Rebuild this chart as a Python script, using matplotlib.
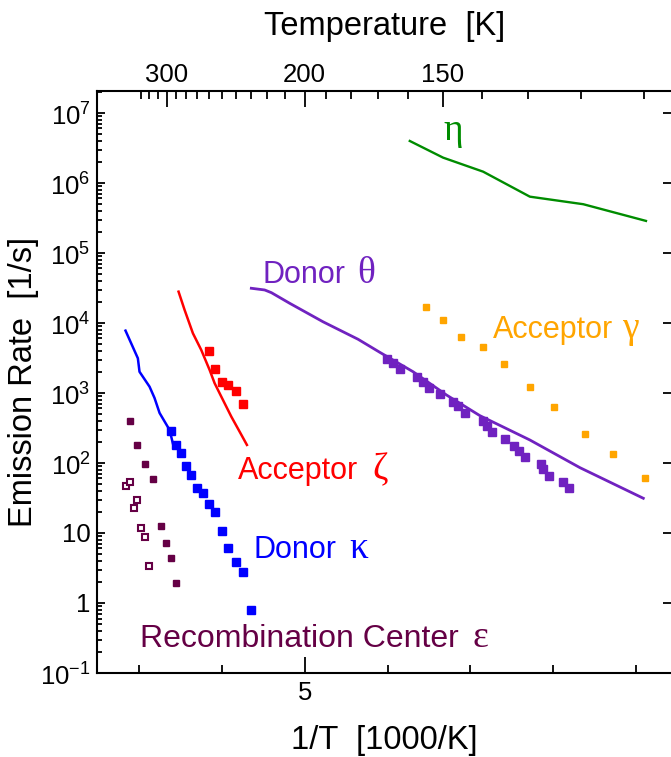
import matplotlib
matplotlib.use("Agg")
import matplotlib.pyplot as plt
from matplotlib.ticker import FixedLocator, FixedFormatter, NullFormatter

plt.rcParams['font.family'] = ['Liberation Sans', 'DejaVu Sans']
plt.rcParams['mathtext.fontset'] = 'custom'
plt.rcParams['mathtext.rm'] = 'Liberation Sans'

# --- data: x = 1000/T, y = emission rate in 1/s ---
kappa_x = [3.385, 3.446, 3.506, 3.567, 3.627, 3.699, 3.772, 3.844, 3.917, 4.001, 4.074, 4.170, 4.255, 4.351]
kappa_y = [287, 181, 137, 90.6, 66.7, 43.5, 36.9, 25.7, 19.8, 10.6, 6.1, 3.81, 2.75, 0.794]
kappa_fit_x = [2.838, 2.987, 3.007, 3.128, 3.188, 3.249, 3.370, 3.409]
kappa_fit_y = [7770, 3130, 2010, 1230, 849, 518, 296, 191]

zeta_x = [3.844, 3.917, 4.001, 4.074, 4.175, 4.255]
zeta_y = [3980, 2200, 1440, 1300, 1060, 690]
zeta_fit_x = [3.478, 3.551, 3.651, 3.752, 3.853, 3.913, 3.994, 4.115, 4.215, 4.303]
zeta_fit_y = [28000, 15350, 7130, 4110, 2130, 1380, 885, 458, 280, 181]

eps_x = [2.890, 2.980, 3.071, 3.164, 3.269, 3.330, 3.382, 3.442]
eps_y = [402, 181, 96.8, 59.7, 12.6, 7.2, 4.44, 1.95]
eps_open_x = [2.847, 2.890, 2.980, 2.935, 3.019, 3.071, 3.116]
eps_open_y = [47.5, 53, 29.6, 22.8, 11.7, 8.7, 3.41]

theta_x = [5.994, 6.066, 6.155, 6.356, 6.429, 6.501, 6.630, 6.791, 6.851, 6.936, 7.146,
           7.201, 7.266, 7.419, 7.524, 7.588, 7.660, 7.846, 7.878, 7.950, 8.112, 8.185]
theta_y = [3060, 2660, 2200, 1710, 1420, 1170, 957, 752, 646, 513, 402,
           334, 280, 220, 177, 150, 123, 95.7, 81.3, 65.9, 53.0, 43.6]
theta_fit_x = [4.356, 4.517, 4.598, 4.819, 5.221, 5.644, 5.906, 6.308, 6.711, 7.114, 7.717, 8.321, 9.086]
theta_fit_y = [31300, 29600, 27100, 19100, 10400, 5850, 3810, 2010, 935, 474, 213, 85.7, 31.3]

gamma_x = [6.458, 6.667, 6.888, 7.153, 7.403, 7.714, 8.011, 8.378, 8.723, 9.106]
gamma_y = [17100, 11000, 6370, 4580, 2620, 1220, 626, 257, 133, 61]

eta_x = [6.268, 6.670, 7.153, 7.717, 8.361, 9.118]
eta_y = [3.98e6, 2.30e6, 1.45e6, 6.37e5, 4.97e5, 2.87e5]

y_major = [1e7, 1e6, 1e5, 1e4, 1e3, 1e2, 10, 1, 0.1]
y_labels = ['$10^{7}$', '$10^{6}$', '$10^{5}$', '$10^{4}$', '$10^{3}$', '$10^{2}$', '10', '1', '$10^{-1}$']
temp_major = [300, 200, 150]
temp_minor = [330, 320, 310, 290, 280, 270, 260, 250, 240, 230, 220, 210,
              190, 180, 170, 160, 140, 130, 120, 110]

BLUE = '#0000ff'
RED = '#ff0000'
PURPLE = '#7022c0'
ORANGE = '#ffa500'
GREEN = '#008c00'
MAROON = '#650045'

fig = plt.figure(figsize=(6.71, 7.57), dpi=100)
ax = fig.add_axes([0.1453, 0.1110, 0.8547, 0.7692])

ax.plot(kappa_fit_x, kappa_fit_y, color=BLUE, lw=1.8)
ax.plot(kappa_x, kappa_y, 's', color=BLUE, ms=5.2, mew=1)
ax.plot(zeta_fit_x, zeta_fit_y, color=RED, lw=1.8)
ax.plot(zeta_x, zeta_y, 's', color=RED, ms=5.5, mew=1)
ax.plot(eps_x, eps_y, 's', color=MAROON, ms=4.8, mew=1)
ax.plot(eps_open_x, eps_open_y, 's', mfc='white', mec=MAROON, ms=3.8, mew=1.5)
ax.plot(theta_fit_x, theta_fit_y, color=PURPLE, lw=2.0)
ax.plot(theta_x, theta_y, 's', color=PURPLE, ms=5.3, mew=1)
ax.plot(gamma_x, gamma_y, 's', color=ORANGE, ms=5.0, mew=1)
ax.plot(eta_x, eta_y, color=GREEN, lw=1.7)

ax.set_yscale('log')
ax.set_xlim(2.5, 9.42)
ax.set_ylim(0.1, 2.08e7)

# y axis: decades labelled, 2..9 minor ticks on the left only
ax.yaxis.set_major_locator(FixedLocator(y_major))
ax.yaxis.set_major_formatter(FixedFormatter(y_labels))
y_minor = [m * 10.0 ** e for e in range(-1, 8) for m in range(2, 10)]
ax.yaxis.set_minor_locator(FixedLocator(y_minor))
ax.yaxis.set_minor_formatter(NullFormatter())

# bottom axis: only 5 is labelled
ax.xaxis.set_major_locator(FixedLocator([5]))
ax.xaxis.set_major_formatter(FixedFormatter(['5']))
ax.xaxis.set_minor_locator(FixedLocator([3, 4, 6, 7, 8, 9]))

ax.tick_params(which='both', direction='in', width=1.3, labelsize=18.5, top=False, right=True)
ax.tick_params(axis='y', which='major', length=6, pad=5)
ax.tick_params(axis='y', which='minor', length=3.5, right=False)
ax.tick_params(axis='x', which='major', length=11.5, pad=6)
ax.tick_params(axis='x', which='minor', length=6)
for side in ['left', 'bottom', 'top']:
    ax.spines[side].set_linewidth(1.5)
ax.spines['right'].set_visible(False)

# top axis in temperature
ax2 = ax.twiny()
ax2.set_xlim(ax.get_xlim())
ax2.xaxis.set_major_locator(FixedLocator([1000.0 / t for t in temp_major]))
ax2.xaxis.set_major_formatter(FixedFormatter([str(t) for t in temp_major]))
ax2.xaxis.set_minor_locator(FixedLocator([1000.0 / t for t in temp_minor]))
ax2.xaxis.set_minor_formatter(NullFormatter())
ax2.tick_params(which='both', direction='in', width=1.3, labelsize=18.5)
ax2.tick_params(which='major', length=11.5, pad=3)
ax2.tick_params(which='minor', length=6)
for sp in ax2.spines.values():
    sp.set_visible(False)

ax.set_xlabel('1/T  [1000/K]', fontsize=23.5, labelpad=14)
ax.set_ylabel('Emission Rate  [1/s]', fontsize=23.5, labelpad=1)
ax2.set_xlabel('Temperature  [K]', fontsize=23.5, labelpad=20)

# curve labels: words in sans, symbols in serif
def label(x, y, word, greek_x, greek, color, size=22):
    if word:
        ax.text(x, y, word, color=color, fontsize=size, ha='left', va='baseline')
    ax.text(greek_x, y, greek, color=color, fontsize=27, ha='left', va='baseline',
            family=['Liberation Serif', 'DejaVu Serif'])

label(4.489, 10 ** 4.567, 'Donor', 5.640, '\u03b8', PURPLE)
label(7.274, 10 ** 3.781, 'Acceptor', 8.825, '\u03b3', ORANGE)
label(4.194, 10 ** 1.767, 'Acceptor', 5.821, '\u03b6', RED)
label(4.384, 10 ** 0.639, 'Donor', 5.543, '\u03ba', BLUE)
label(3.007, 10 ** -0.624, 'Recombination Center', 7.029, '\u03b5', MAROON, size=23)
label(0, 10 ** 6.614, '', 6.670, '\u03b7', GREEN)

fig.savefig('out.png', dpi=100)
